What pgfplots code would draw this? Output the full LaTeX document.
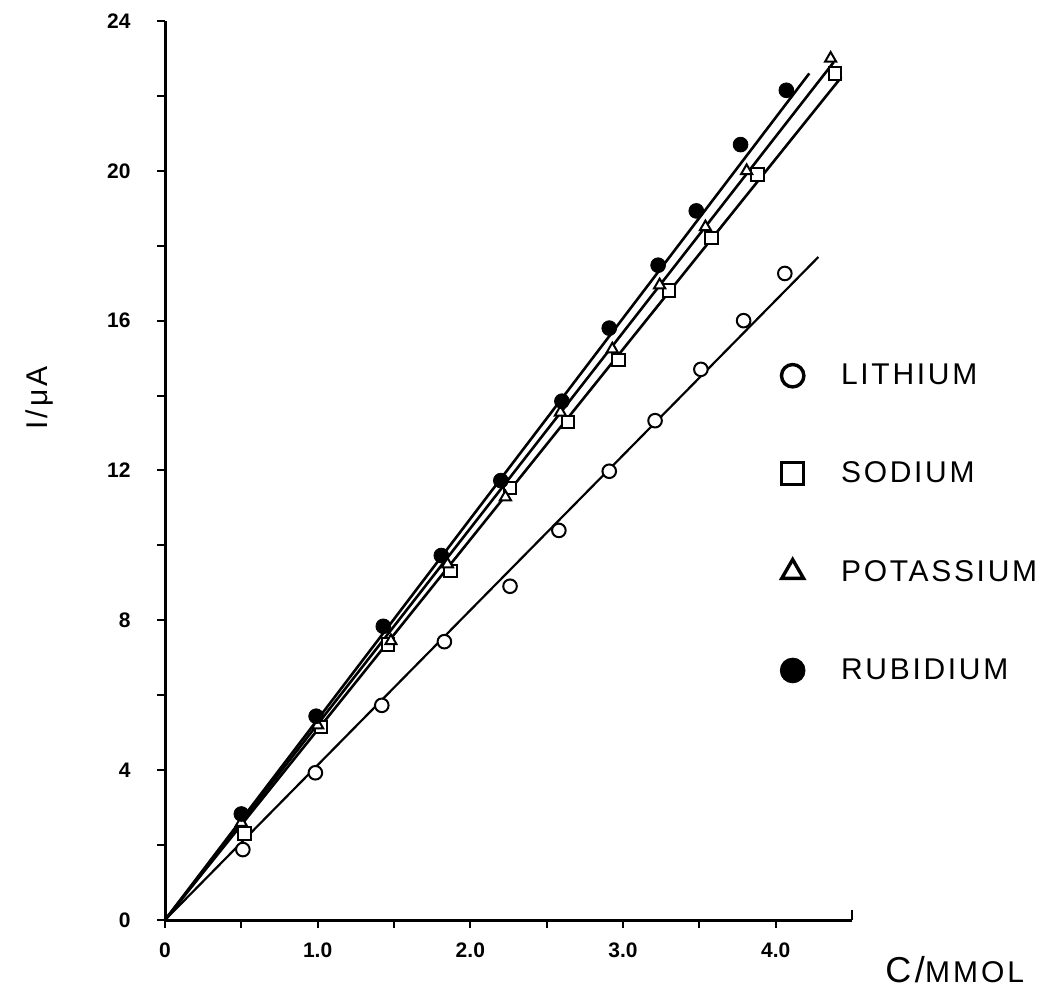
\documentclass[border=0pt]{standalone}
\usepackage{fontspec}
\setmainfont{Liberation Sans}
\usepackage{pgfplots}
\pgfplotsset{compat=1.18}
\begin{document}
\begin{tikzpicture}
\useasboundingbox (0pt,0pt) rectangle (526pt,494.5pt);
\begin{axis}[
  at={(82.5pt,34.5pt)}, anchor=south west,
  scale only axis, width=343.5pt, height=449.5pt,
  xmin=0, xmax=4.5, ymin=0, ymax=24,
  axis x line*=bottom, axis y line*=left,
  axis line style={line width=1.5pt},
  xtick={0,1,2,3,4}, xticklabels={0,1.0,2.0,3.0,4.0},
  minor xtick={0.5,1.5,2.5,3.5},
  extra x ticks={4.5}, extra x tick labels={},
  extra x tick style={tick align=inside, major tick length=5pt},
  ytick={0,4,...,24}, minor ytick={2,6,...,22},
  tick align=outside,
  major tick length=4pt, minor tick length=4pt,
  tick style={line width=1pt, black},
  /pgf/number format/assume math mode=true,
  ticklabel style={font=\bfseries\fontsize{10.5}{11}\selectfont},
  yticklabel style={inner sep=0pt, anchor=east, xshift=-13pt},
  xticklabel style={inner sep=0pt, anchor=north, yshift=-7pt},
  clip=false,
  legend style={at={(0.895,0.619)}, anchor=north west, draw=none, fill=none,
    inner sep=0pt, row sep=37pt, column sep=18pt,
    font=\fontsize{15}{15}\selectfont\addfontfeature{LetterSpace=9},
    nodes={inner sep=0pt, anchor=west}},
  legend cell align=left,
]
\addlegendimage{only marks, mark=*, mark size=5.6pt, mark options={fill=white, draw=black, line width=1.7pt}}
\addlegendentry{LITHIUM}
\addlegendimage{only marks, mark=square, mark size=5.5pt, mark options={draw=black, line width=1.7pt}}
\addlegendentry{SODIUM}
\addlegendimage{only marks, mark=triangle, mark size=6.3pt, mark options={draw=black, line width=1.7pt}}
\addlegendentry{POTASSIUM}
\addlegendimage{only marks, mark=*, mark size=6.2pt, mark options={fill=black, draw=black}}
\addlegendentry{RUBIDIUM}

% fitted lines
\addplot[forget plot, line width=1.3pt] coordinates {(0,0) (4.22,22.6)};
\addplot[forget plot, line width=1.3pt] coordinates {(0,0) (4.38,22.9)};
\addplot[forget plot, line width=1.3pt] coordinates {(0,0) (4.43,22.5)};
\addplot[forget plot, line width=1.1pt] coordinates {(0,0) (4.28,17.7)};

% Lithium
\addplot[forget plot, only marks, mark=*, mark size=3.4pt, mark options={fill=white, draw=black, line width=1pt}]
coordinates {(0.51,1.88) (0.985,3.93) (1.42,5.73) (1.83,7.43) (2.26,8.91) (2.58,10.4) (2.91,11.98) (3.21,13.33) (3.51,14.7) (3.79,16.0) (4.06,17.26)};
% Sodium
\addplot[forget plot, only marks, mark=square*, mark size=3.1pt, mark options={fill=white, draw=black, line width=1pt}]
coordinates {(0.52,2.31) (1.02,5.15) (1.46,7.36) (1.87,9.32) (2.26,11.53) (2.64,13.3) (2.97,14.95) (3.3,16.8) (3.58,18.2) (3.88,19.9) (4.39,22.6)};
% Potassium
\addplot[forget plot, only marks, mark=triangle*, mark size=3.2pt, mark options={fill=white, draw=black, line width=1pt}]
coordinates {(0.5,2.6) (1.0,5.2) (1.48,7.45) (1.85,9.5) (2.23,11.29) (2.59,13.55) (2.93,15.24) (3.24,16.95) (3.54,18.5) (3.81,20.0) (4.36,23.0)};
% Rubidium
\addplot[forget plot, only marks, mark=*, mark size=3.7pt, mark options={fill=black, draw=black}]
coordinates {(0.5,2.83) (0.99,5.44) (1.43,7.84) (1.81,9.73) (2.2,11.73) (2.6,13.85) (2.91,15.8) (3.23,17.48) (3.48,18.93) (3.77,20.7) (4.07,22.15)};
\end{axis}
\node[rotate=90, font=\fontsize{15}{15}\selectfont\addfontfeature{LetterSpace=10}] at (20pt,295.5pt) {I/μA};
\node[anchor=base west, inner sep=0pt] at (442.5pt,3.5pt)
  {{\fontsize{18}{18}\selectfont\addfontfeature{LetterSpace=10}C/}{\fontsize{15}{15}\selectfont\addfontfeature{LetterSpace=10}MMOL}};
\end{tikzpicture}
\end{document}
